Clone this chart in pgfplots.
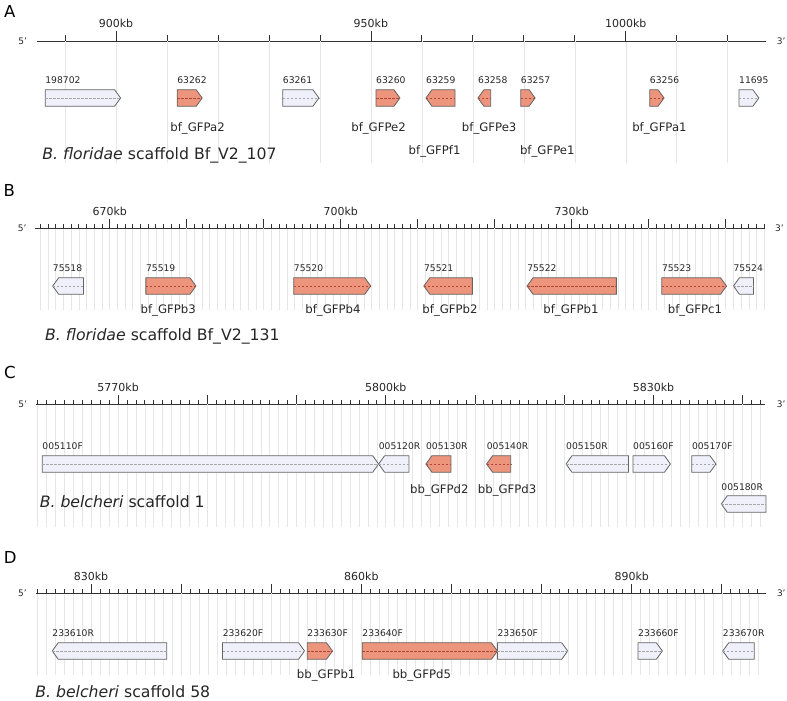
\documentclass[border=0pt]{standalone}
\usepackage{pgfplots}
\pgfplotsset{compat=1.18}
\usepackage{fontspec}
\setmainfont{DejaVu Sans}
\definecolor{gfp}{RGB}{237,148,124}
\definecolor{oth}{RGB}{240,240,251}
\definecolor{gridc}{RGB}{230,230,230}
\definecolor{edgec}{RGB}{100,100,100}
\definecolor{gdash}{RGB}{175,70,55}
\pgfplotsset{
  boxg/.style={draw=edgec, fill=gfp, line width=0.8pt, line join=miter},
  boxo/.style={draw=edgec, fill=oth, line width=0.8pt, line join=miter},
  dashg/.style={draw=gdash, line width=0.5pt, dash pattern=on 2.5pt off 1.5pt},
  dasho/.style={draw=black!35, line width=0.5pt, dash pattern=on 2.5pt off 1.5pt},
  track/.style={
    scale only axis, clip=false,
    axis x line=top, axis y line=none, ytick=\empty,
    x axis line style={-, line width=0.9pt, black!80},
    tick align=outside,
    major tick length=9pt, minor tick length=4pt,
    tick style={black!80, line width=0.8pt},
    xmajorgrids, xminorgrids,
    major grid style={gridc, line width=0.6pt},
    minor grid style={gridc, line width=0.6pt},
    xticklabel style={font=\fontsize{11}{12}\selectfont, text=black!85},
    extra x tick labels={},
    extra x tick style={grid=major},
  },
}
\tikzset{
  idl/.style={anchor=base west, inner sep=0pt, font=\fontsize{9.2}{10}\selectfont, text=black!85},
  nml/.style={anchor=base, inner sep=0pt, font=\fontsize{11.7}{13}\selectfont, text=black!85},
  ttl/.style={anchor=base west, inner sep=0pt, font=\fontsize{15.7}{17}\selectfont, text=black!85},
  plet/.style={anchor=base west, inner sep=0pt, font=\fontsize{16.5}{18}\selectfont},
  prm/.style={anchor=west, inner sep=0pt, font=\fontsize{9}{10}\selectfont, text=black!85},
}
% forward gene: start, end, y centre, head length (kb), type (g/o)
\newcommand{\fwd}[5]{%
  \pgfmathsetmacro{\hs}{max(#1,#2-#4)}%
  \pgfmathsetmacro{\yt}{#3+8.3}%
  \pgfmathsetmacro{\yb}{#3-8.3}%
  \addplot[box#5] coordinates {(#1,\yt) (\hs,\yt) (#2,#3) (\hs,\yb) (#1,\yb)} -- cycle;
  \addplot[dash#5] coordinates {(#1,#3) (#2,#3)};
}
% reverse gene
\newcommand{\rev}[5]{%
  \pgfmathsetmacro{\hs}{min(#2,#1+#4)}%
  \pgfmathsetmacro{\yt}{#3+8.3}%
  \pgfmathsetmacro{\yb}{#3-8.3}%
  \addplot[box#5] coordinates {(#2,\yt) (\hs,\yt) (#1,#3) (\hs,\yb) (#2,\yb)} -- cycle;
  \addplot[dash#5] coordinates {(#1,#3) (#2,#3)};
}
\begin{document}
\begin{tikzpicture}
\useasboundingbox (0,0) rectangle (787pt,-701pt);
% ---------------- A ----------------
\begin{axis}[track, at={(37pt,-41pt)}, anchor=north west,
  width=729pt, height=122pt, xmin=884.5, xmax=1027.5, ymin=-163, ymax=-41,
  major tick length=10pt,
  xtick={900,950,1000}, xticklabels={900kb,950kb,1000kb},
  extra x ticks={890,910,920,930,940,960,970,980,990,1010,1020},
  extra x tick style={grid=major, major tick length=6pt}]
\fwd{886.1}{900.9}{-98}{1.18}{o}
\fwd{912.0}{916.9}{-98}{1.18}{g}
\fwd{932.7}{939.8}{-98}{1.18}{o}
\fwd{951.0}{955.7}{-98}{1.18}{g}
\rev{960.8}{966.5}{-98}{1.18}{g}
\rev{971.0}{973.5}{-98}{1.18}{g}
\fwd{979.4}{982.2}{-98}{1.18}{g}
\fwd{1004.7}{1007.5}{-98}{1.18}{g}
\fwd{1022.2}{1026.1}{-98}{1.18}{o}
\node[idl] at (axis cs:886.1,-84) {198702};
\node[idl] at (axis cs:912.0,-84) {63262};
\node[idl] at (axis cs:932.7,-84) {63261};
\node[idl] at (axis cs:951.0,-84) {63260};
\node[idl] at (axis cs:960.8,-84) {63259};
\node[idl] at (axis cs:971.0,-84) {63258};
\node[idl] at (axis cs:979.4,-84) {63257};
\node[idl] at (axis cs:1004.7,-84) {63256};
\node[idl] at (axis cs:1022.2,-84) {11695};
\node[nml] at (axis cs:916.0,-131) {bf\_GFPa2};
\node[nml] at (axis cs:951.5,-131) {bf\_GFPe2};
\node[nml] at (axis cs:962.5,-154) {bf\_GFPf1};
\node[nml] at (axis cs:973.2,-131) {bf\_GFPe3};
\node[nml] at (axis cs:984.6,-154) {bf\_GFPe1};
\node[nml] at (axis cs:1006.6,-131) {bf\_GFPa1};
\node[ttl] at (axis cs:885.5,-159) {\textit{B. floridae} scaffold Bf\_V2\_107};
\node[plet] at (axis cs:878.0,-18) {A};
\node[prm] at (axis cs:880.8,-41) {5'};
\node[prm] at (axis cs:1029.6,-41) {3'};
\end{axis}
% ---------------- B ----------------
\begin{axis}[track, at={(35pt,-228pt)}, anchor=north west,
  width=730pt, height=82pt, xmin=660.3, xmax=755.1, ymin=-310, ymax=-228,
  xtick={670,700,730}, xticklabels={670kb,700kb,730kb},
  extra x ticks={680,690,710,720,740,750},
  minor xtick={661,...,755}]
\rev{662.6}{666.6}{-286}{0.78}{o}
\fwd{674.7}{681.2}{-286}{0.78}{g}
\fwd{693.9}{703.9}{-286}{0.78}{g}
\rev{710.8}{717.1}{-286}{0.78}{g}
\rev{724.2}{735.8}{-286}{0.78}{g}
\fwd{741.7}{750.1}{-286}{0.78}{g}
\rev{751.0}{753.6}{-286}{0.78}{o}
\node[idl] at (axis cs:662.6,-271) {75518};
\node[idl] at (axis cs:674.7,-271) {75519};
\node[idl] at (axis cs:693.9,-271) {75520};
\node[idl] at (axis cs:710.8,-271) {75521};
\node[idl] at (axis cs:724.2,-271) {75522};
\node[idl] at (axis cs:741.7,-271) {75523};
\node[idl] at (axis cs:751.0,-271) {75524};
\node[nml] at (axis cs:677.6,-313) {bf\_GFPb3};
\node[nml] at (axis cs:699.0,-313) {bf\_GFPb4};
\node[nml] at (axis cs:714.2,-313) {bf\_GFPb2};
\node[nml] at (axis cs:729.9,-313) {bf\_GFPb1};
\node[nml] at (axis cs:746.0,-313) {bf\_GFPc1};
\node[ttl] at (axis cs:661.6,-340) {\textit{B. floridae} scaffold Bf\_V2\_131};
\node[plet] at (axis cs:656.2,-197) {B};
\node[prm] at (axis cs:658.05,-228) {5'};
\node[prm] at (axis cs:756.4,-228) {3'};
\end{axis}
% ---------------- C ----------------
\begin{axis}[track, at={(36pt,-404pt)}, anchor=north west,
  width=729pt, height=123pt, xmin=5760.8, xmax=5842.5, ymin=-527, ymax=-404,
  xtick={5770,5800,5830}, xticklabels={5770kb,5800kb,5830kb},
  extra x ticks={5780,5790,5810,5820,5840},
  minor xtick={5761,...,5842}]
\fwd{5761.5}{5799.2}{-464}{0.67}{o}
\rev{5799.2}{5802.6}{-464}{0.67}{o}
\rev{5804.5}{5807.3}{-464}{0.67}{g}
\rev{5811.3}{5814.0}{-464}{0.67}{g}
\rev{5820.2}{5827.2}{-464}{0.67}{o}
\fwd{5827.7}{5831.9}{-464}{0.67}{o}
\fwd{5834.3}{5837.0}{-464}{0.67}{o}
\rev{5837.6}{5842.6}{-504}{0.67}{o}
\node[idl] at (axis cs:5761.5,-449) {005110F};
\node[idl] at (axis cs:5799.2,-449) {005120R};
\node[idl] at (axis cs:5804.5,-449) {005130R};
\node[idl] at (axis cs:5811.3,-449) {005140R};
\node[idl] at (axis cs:5820.2,-449) {005150R};
\node[idl] at (axis cs:5827.7,-449) {005160F};
\node[idl] at (axis cs:5834.3,-449) {005170F};
\node[idl] at (axis cs:5837.6,-490) {005180R};
\node[nml] at (axis cs:5806.0,-493) {bb\_GFPd2};
\node[nml] at (axis cs:5813.6,-493) {bb\_GFPd3};
\node[ttl] at (axis cs:5761.2,-507) {\textit{B. belcheri} scaffold 1};
\node[plet] at (axis cs:5757.2,-378) {C};
\node[prm] at (axis cs:5758.8,-404) {5'};
\node[prm] at (axis cs:5843.8,-404) {3'};
\end{axis}
% ---------------- D ----------------
\begin{axis}[track, at={(36pt,-593pt)}, anchor=north west,
  width=730pt, height=82pt, xmin=823.9, xmax=904.9, ymin=-675, ymax=-593,
  xtick={830,860,890}, xticklabels={830kb,860kb,890kb},
  extra x ticks={840,850,870,880,900},
  minor xtick={824,...,904}]
\rev{825.7}{838.4}{-651}{0.67}{o}
\fwd{844.6}{853.7}{-651}{0.67}{o}
\fwd{854.0}{856.8}{-651}{0.67}{g}
\fwd{860.1}{875.1}{-651}{0.67}{g}
\fwd{875.1}{882.9}{-651}{0.67}{o}
\fwd{890.7}{893.4}{-651}{0.67}{o}
\rev{900.1}{903.6}{-651}{0.67}{o}
\node[idl] at (axis cs:825.7,-636) {233610R};
\node[idl] at (axis cs:844.6,-636) {233620F};
\node[idl] at (axis cs:854.0,-636) {233630F};
\node[idl] at (axis cs:860.1,-636) {233640F};
\node[idl] at (axis cs:875.1,-636) {233650F};
\node[idl] at (axis cs:890.7,-636) {233660F};
\node[idl] at (axis cs:900.1,-636) {233670R};
\node[nml] at (axis cs:856.1,-678) {bb\_GFPb1};
\node[nml] at (axis cs:866.7,-678) {bb\_GFPd5};
\node[ttl] at (axis cs:823.8,-697) {\textit{B. belcheri} scaffold 58};
\node[plet] at (axis cs:820.3,-563) {D};
\node[prm] at (axis cs:821.9,-593) {5'};
\node[prm] at (axis cs:906.1,-593) {3'};
\end{axis}
\end{tikzpicture}
\end{document}
